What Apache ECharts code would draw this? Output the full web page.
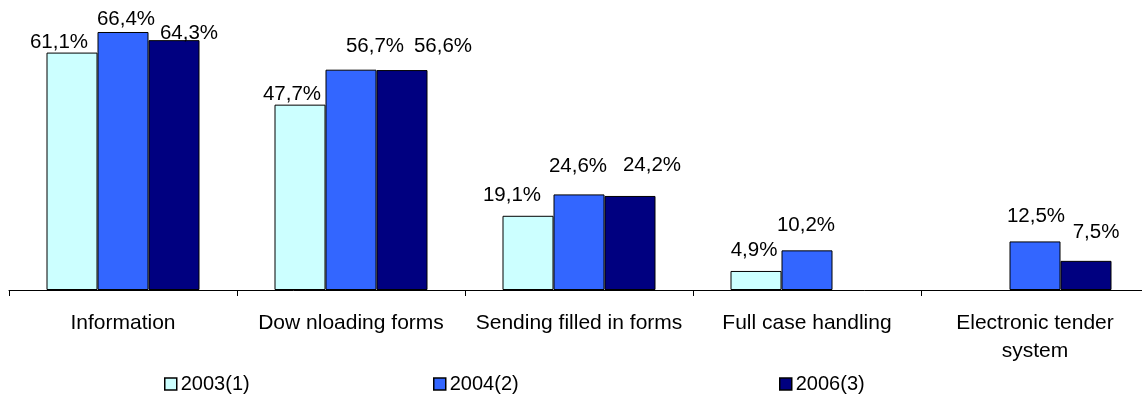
<!DOCTYPE html>
<html>
<head>
<meta charset="utf-8">
<script src="https://cdn.jsdelivr.net/npm/echarts@6/dist/echarts.min.js"></script>
<style>
html,body{margin:0;padding:0;background:#fff;overflow:hidden;width:1142px;height:410px;}
#chart{width:1152px;height:410px;}
</style>
</head>
<body>
<div id="chart"></div>
<script>
const categories = ['Information', 'Dow nloading forms', 'Sending filled in forms', 'Full case handling', 'Electronic tender\nsystem'];
const seriesNames = ['2003(1)', '2004(2)', '2006(3)'];
const values2003 = [61.1, 47.7, 19.1, 4.9, null];
const values2004 = [66.4, 56.7, 24.6, 10.2, 12.5];
const values2006 = [64.3, 56.6, 24.2, null, 7.5];

// label nudges (style only) to mimic the original label placement
const nudge2003 = [[-13, 0], [-8, 0], [-16, -10], [-2, -10], [0, 0]];
const nudge2004 = [[3, -2], [24, -13], [-1, -18], [-1, -15], [1, -15]];
const nudge2006 = [[15, 4], [41, -13], [22, -20], [0, 0], [10, -18]];

const colors = ['#CCFFFF', '#3366FF', '#000080'];
const FONT = 'Liberation Sans, Arial, sans-serif';

function fmt(v) { return v.toFixed(1).replace('.', ',') + '%'; }

function buildData(vals, nudges) {
  return vals.map((v, i) => v == null ? '-' : {
    value: v,
    label: { offset: nudges[i] }
  });
}

function makeSeries(name, vals, nudges, color) {
  return {
    name: name,
    type: 'bar',
    barWidth: 51,
    barGap: '0%',
    data: buildData(vals, nudges),
    itemStyle: { color: color, borderColor: '#000', borderWidth: 1 },
    label: {
      show: true,
      position: 'top',
      distance: 0,
      color: '#000',
      fontFamily: FONT,
      fontSize: 20.5,
      formatter: p => fmt(p.value)
    },
    emphasis: { disabled: true },
    animation: false
  };
}

const chart = echarts.init(document.getElementById('chart'), null, { renderer: 'canvas', width: 1152, height: 410 });

function legendAt(name, left) {
  return {
    data: [name],
    left: left,
    top: 374,
    padding: 0,
    itemWidth: 12,
    itemHeight: 12,
    icon: 'rect',
    selectedMode: false,
    itemStyle: { borderColor: '#000', borderWidth: 1.5 },
    textStyle: { fontFamily: FONT, fontSize: 20, color: '#000', padding: [0, 0, 0, -1] }
  };
}

chart.setOption({
  animation: false,
  backgroundColor: '#fff',
  grid: { left: 9, top: 18, width: 1140, height: 272, containLabel: false },
  legend: [
    legendAt(seriesNames[0], 164),
    legendAt(seriesNames[1], 433),
    legendAt(seriesNames[2], 779)
  ],
  xAxis: {
    type: 'category',
    data: categories,
    boundaryGap: true,
    axisLine: { show: true, lineStyle: { color: '#000', width: 1 } },
    axisTick: { show: true, alignWithLabel: false, length: 6, lineStyle: { color: '#000' } },
    axisLabel: {
      interval: 0,
      margin: 19,
      color: '#000',
      fontFamily: FONT,
      fontSize: 21,
      lineHeight: 28
    },
    splitLine: { show: false }
  },
  yAxis: {
    type: 'value',
    min: 0,
    max: 70,
    show: false,
    splitLine: { show: false }
  },
  series: [
    makeSeries(seriesNames[0], values2003, nudge2003, colors[0]),
    makeSeries(seriesNames[1], values2004, nudge2004, colors[1]),
    makeSeries(seriesNames[2], values2006, nudge2006, colors[2])
  ]
});
</script>
</body>
</html>
